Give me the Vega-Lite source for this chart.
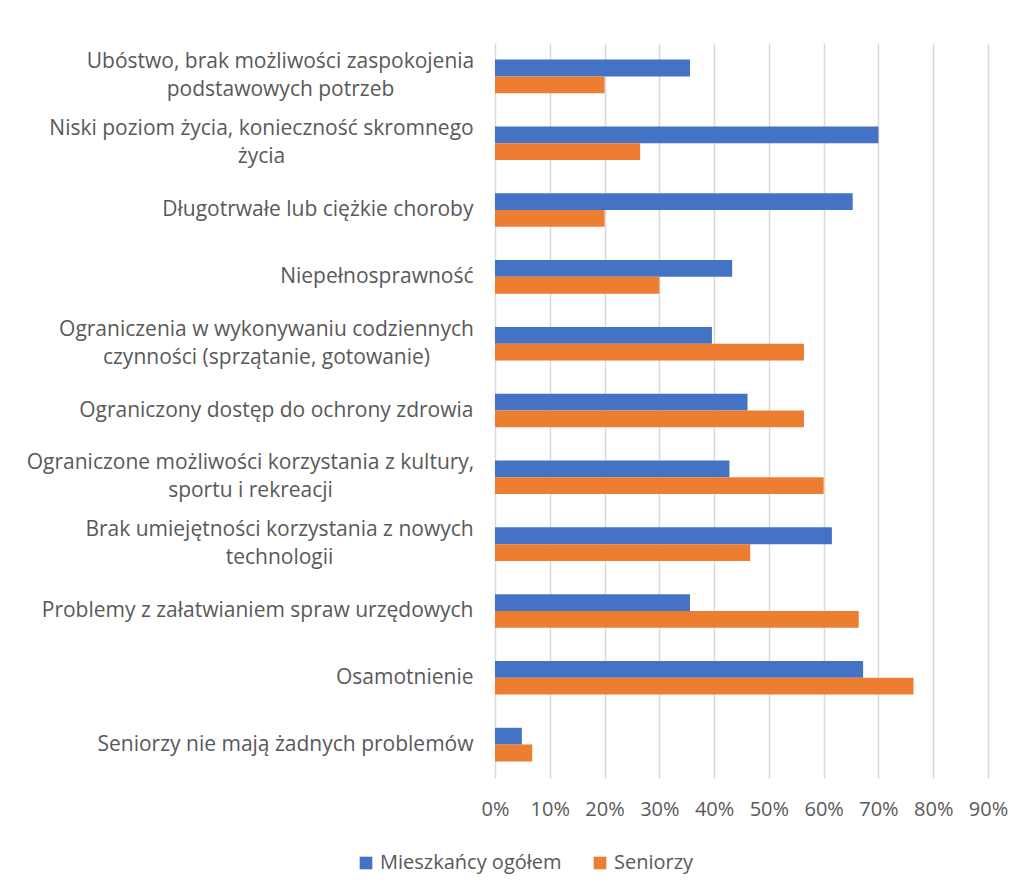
{
  "$schema": "https://vega.github.io/schema/vega-lite/v6.json",
  "autosize": "none",
  "width": 493,
  "height": 735,
  "padding": {"left": 495, "top": 43, "right": 36, "bottom": 116},
  "background": "white",
  "data": {
    "values": [
      {"kategoria": "Ubóstwo, brak możliwości zaspokojenia|podstawowych potrzeb", "seria": "Mieszkańcy ogółem", "wartosc": 0.356},
      {"kategoria": "Ubóstwo, brak możliwości zaspokojenia|podstawowych potrzeb", "seria": "Seniorzy", "wartosc": 0.20},
      {"kategoria": "Niski poziom życia, konieczność skromnego|życia", "seria": "Mieszkańcy ogółem", "wartosc": 0.70},
      {"kategoria": "Niski poziom życia, konieczność skromnego|życia", "seria": "Seniorzy", "wartosc": 0.265},
      {"kategoria": "Długotrwałe lub ciężkie choroby", "seria": "Mieszkańcy ogółem", "wartosc": 0.653},
      {"kategoria": "Długotrwałe lub ciężkie choroby", "seria": "Seniorzy", "wartosc": 0.20},
      {"kategoria": "Niepełnosprawność", "seria": "Mieszkańcy ogółem", "wartosc": 0.433},
      {"kategoria": "Niepełnosprawność", "seria": "Seniorzy", "wartosc": 0.30},
      {"kategoria": "Ograniczenia w wykonywaniu codziennych|czynności (sprzątanie, gotowanie)", "seria": "Mieszkańcy ogółem", "wartosc": 0.396},
      {"kategoria": "Ograniczenia w wykonywaniu codziennych|czynności (sprzątanie, gotowanie)", "seria": "Seniorzy", "wartosc": 0.564},
      {"kategoria": "Ograniczony dostęp do ochrony zdrowia", "seria": "Mieszkańcy ogółem", "wartosc": 0.461},
      {"kategoria": "Ograniczony dostęp do ochrony zdrowia", "seria": "Seniorzy", "wartosc": 0.564},
      {"kategoria": "Ograniczone możliwości korzystania z kultury,|sportu i rekreacji", "seria": "Mieszkańcy ogółem", "wartosc": 0.428},
      {"kategoria": "Ograniczone możliwości korzystania z kultury,|sportu i rekreacji", "seria": "Seniorzy", "wartosc": 0.60},
      {"kategoria": "Brak umiejętności korzystania z nowych|technologii", "seria": "Mieszkańcy ogółem", "wartosc": 0.615},
      {"kategoria": "Brak umiejętności korzystania z nowych|technologii", "seria": "Seniorzy", "wartosc": 0.466},
      {"kategoria": "Problemy z załatwianiem spraw urzędowych", "seria": "Mieszkańcy ogółem", "wartosc": 0.356},
      {"kategoria": "Problemy z załatwianiem spraw urzędowych", "seria": "Seniorzy", "wartosc": 0.664},
      {"kategoria": "Osamotnienie", "seria": "Mieszkańcy ogółem", "wartosc": 0.672},
      {"kategoria": "Osamotnienie", "seria": "Seniorzy", "wartosc": 0.764},
      {"kategoria": "Seniorzy nie mają żadnych problemów", "seria": "Mieszkańcy ogółem", "wartosc": 0.049},
      {"kategoria": "Seniorzy nie mają żadnych problemów", "seria": "Seniorzy", "wartosc": 0.068}
    ]
  },
  "mark": {"type": "bar"},
  "encoding": {
    "y": {
      "field": "kategoria",
      "type": "nominal",
      "sort": null,
      "scale": {"paddingInner": 0.497, "paddingOuter": 0.2485},
      "axis": {
        "title": null,
        "domain": false,
        "ticks": false,
        "tickSize": 0,
        "labelExpr": "split(datum.label, '|')",
        "labelFont": "Open Sans",
        "labelFontSize": 21,
        "labelColor": "#595959",
        "labelLineHeight": 28,
        "labelLimit": 500,
        "labelBaseline": "middle",
        "labelAlign": {"condition": {"test": "indexof(datum.value, '|') >= 0", "value": "center"}, "value": "right"},
        "labelPadding": {"condition": [
          {"test": "indexof(datum.value, 'Ubóstwo') == 0", "value": 215},
          {"test": "indexof(datum.value, 'Niski') == 0", "value": 234},
          {"test": "indexof(datum.value, 'Ograniczenia') == 0", "value": 229},
          {"test": "indexof(datum.value, 'Ograniczone') == 0", "value": 245},
          {"test": "indexof(datum.value, 'Brak') == 0", "value": 216}
        ], "value": 22},
        "labelOffset": {"condition": {"test": "indexof(datum.value, '|') >= 0", "value": -14}, "value": 0}
      }
    },
    "yOffset": {"field": "seria", "type": "nominal", "sort": ["Mieszkańcy ogółem", "Seniorzy"]},
    "x": {
      "field": "wartosc",
      "type": "quantitative",
      "scale": {"domain": [0, 0.9], "nice": false},
      "axis": {
        "title": null,
        "format": ".0%",
        "values": [0, 0.1, 0.2, 0.3, 0.4, 0.5, 0.6, 0.7, 0.8, 0.9],
        "domain": false,
        "ticks": false,
        "tickSize": 0,
        "grid": true,
        "gridColor": "#d9d9d9",
        "gridWidth": 1.5,
        "labelFont": "Open Sans",
        "labelFontSize": 20,
        "labelColor": "#595959",
        "labelPadding": 21,
        "labelFlush": false
      }
    },
    "color": {
      "field": "seria",
      "type": "nominal",
      "sort": ["Mieszkańcy ogółem", "Seniorzy"],
      "scale": {"domain": ["Mieszkańcy ogółem", "Seniorzy"], "range": ["#4472C4", "#ED7D31"]},
      "legend": {
        "title": null,
        "orient": "none",
        "direction": "horizontal",
        "legendX": -139,
        "legendY": 810,
        "symbolType": "square",
        "symbolSize": 160,
        "symbolStrokeWidth": 0,
        "labelFont": "Open Sans",
        "labelFontSize": 20,
        "labelColor": "#595959",
        "labelLimit": 400,
        "columnPadding": 28,
        "labelOffset": 4
      }
    }
  },
  "config": {
    "view": {"stroke": null}
  }
}
